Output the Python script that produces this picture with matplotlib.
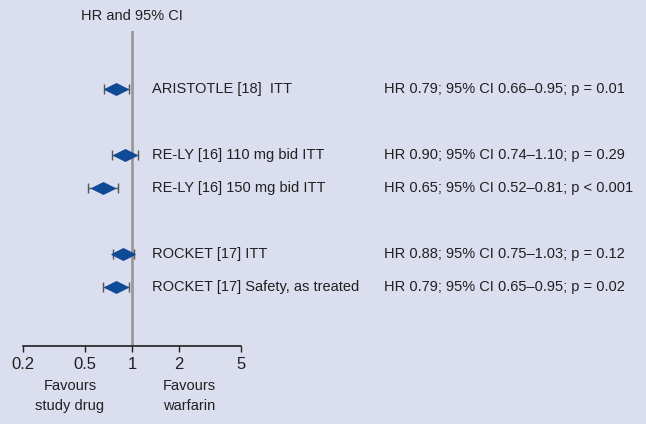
import matplotlib
matplotlib.use("Agg")
import matplotlib.pyplot as plt
from matplotlib.transforms import blended_transform_factory
from matplotlib.path import Path

# data
studies = ["ARISTOTLE [18]  ITT", "RE-LY [16] 110 mg bid ITT", "RE-LY [16] 150 mg bid ITT",
           "ROCKET [17] ITT", "ROCKET [17] Safety, as treated"]
hr = [0.79, 0.90, 0.65, 0.88, 0.79]
ci_low = [0.66, 0.74, 0.52, 0.75, 0.65]
ci_high = [0.95, 1.10, 0.81, 1.03, 0.95]
p_text = ["p = 0.01", "p = 0.29", "p < 0.001", "p = 0.12", "p = 0.02"]
rows = [0, 2, 3, 5, 6]
ticks = [0.2, 0.5, 1, 2, 5]
tick_labels = ["0.2", "0.5", "1", "2", "5"]

bg = "#dadeef"
txt = "#231f20"
fs = 10.5
plt.rcParams['font.family'] = ['Liberation Sans', 'DejaVu Sans']

W, H = 646, 424
fig = plt.figure(figsize=(W / 100, H / 100), dpi=100, facecolor=bg)
ax = fig.add_axes([23 / W, 1 - 346 / H, 218 / W, 315 / H])
ax.set_facecolor(bg)
ax.set_xscale("log")
ax.set_xlim(0.2, 5)
ax.set_ylim(7.79, -1.76)

ax.axvline(1, color="#9a9a9a", lw=2, zorder=1)

diamond = Path([(-1, 0), (0, 0.5), (1, 0), (0, -0.5), (-1, 0)],
               [Path.MOVETO, Path.LINETO, Path.LINETO, Path.LINETO, Path.CLOSEPOLY])
for y, h, lo, hi in zip(rows, hr, ci_low, ci_high):
    ax.errorbar([h], [y], xerr=[[h - lo], [hi - h]], fmt="none", ecolor="#555555",
                elinewidth=1, capsize=3.6, capthick=1, zorder=2)
    ax.plot([h], [y], marker=diamond, ms=16.5, color="#0f4a96", mec="#0f4a96", zorder=3)

trans = blended_transform_factory(fig.transFigure, ax.transData)
for y, name, h, lo, hi, p in zip(rows, studies, hr, ci_low, ci_high, p_text):
    ax.text(152 / W, y, name, transform=trans, ha="left", va="center", fontsize=fs, color=txt)
    stat = "HR %.2f; 95%% CI %.2f\u2013%.2f; %s" % (h, lo, hi, p)
    ax.text(384 / W, y, stat, transform=trans, ha="left", va="center", fontsize=fs, color=txt)

ax.set_xticks(ticks)
ax.set_xticklabels(tick_labels)
ax.xaxis.set_minor_locator(matplotlib.ticker.NullLocator())
ax.tick_params(axis="x", direction="out", length=4, width=1, colors=txt, labelsize=12, pad=4)
ax.set_yticks([])
for s in ["top", "left", "right"]:
    ax.spines[s].set_visible(False)
ax.spines["bottom"].set_color(txt)
ax.spines["bottom"].set_linewidth(1.2)

fig.text(132 / W, 1 - 16 / H, "HR and 95% CI", ha="center", va="center", fontsize=fs, color=txt)
fig.text(70 / W, 1 - 396 / H, "Favours\nstudy drug", ha="center", va="center", fontsize=fs,
         color=txt, linespacing=1.6)
fig.text(189 / W, 1 - 396 / H, "Favours\nwarfarin", ha="center", va="center", fontsize=fs,
         color=txt, linespacing=1.6)

fig.savefig("out.png", dpi=100, facecolor=bg)
